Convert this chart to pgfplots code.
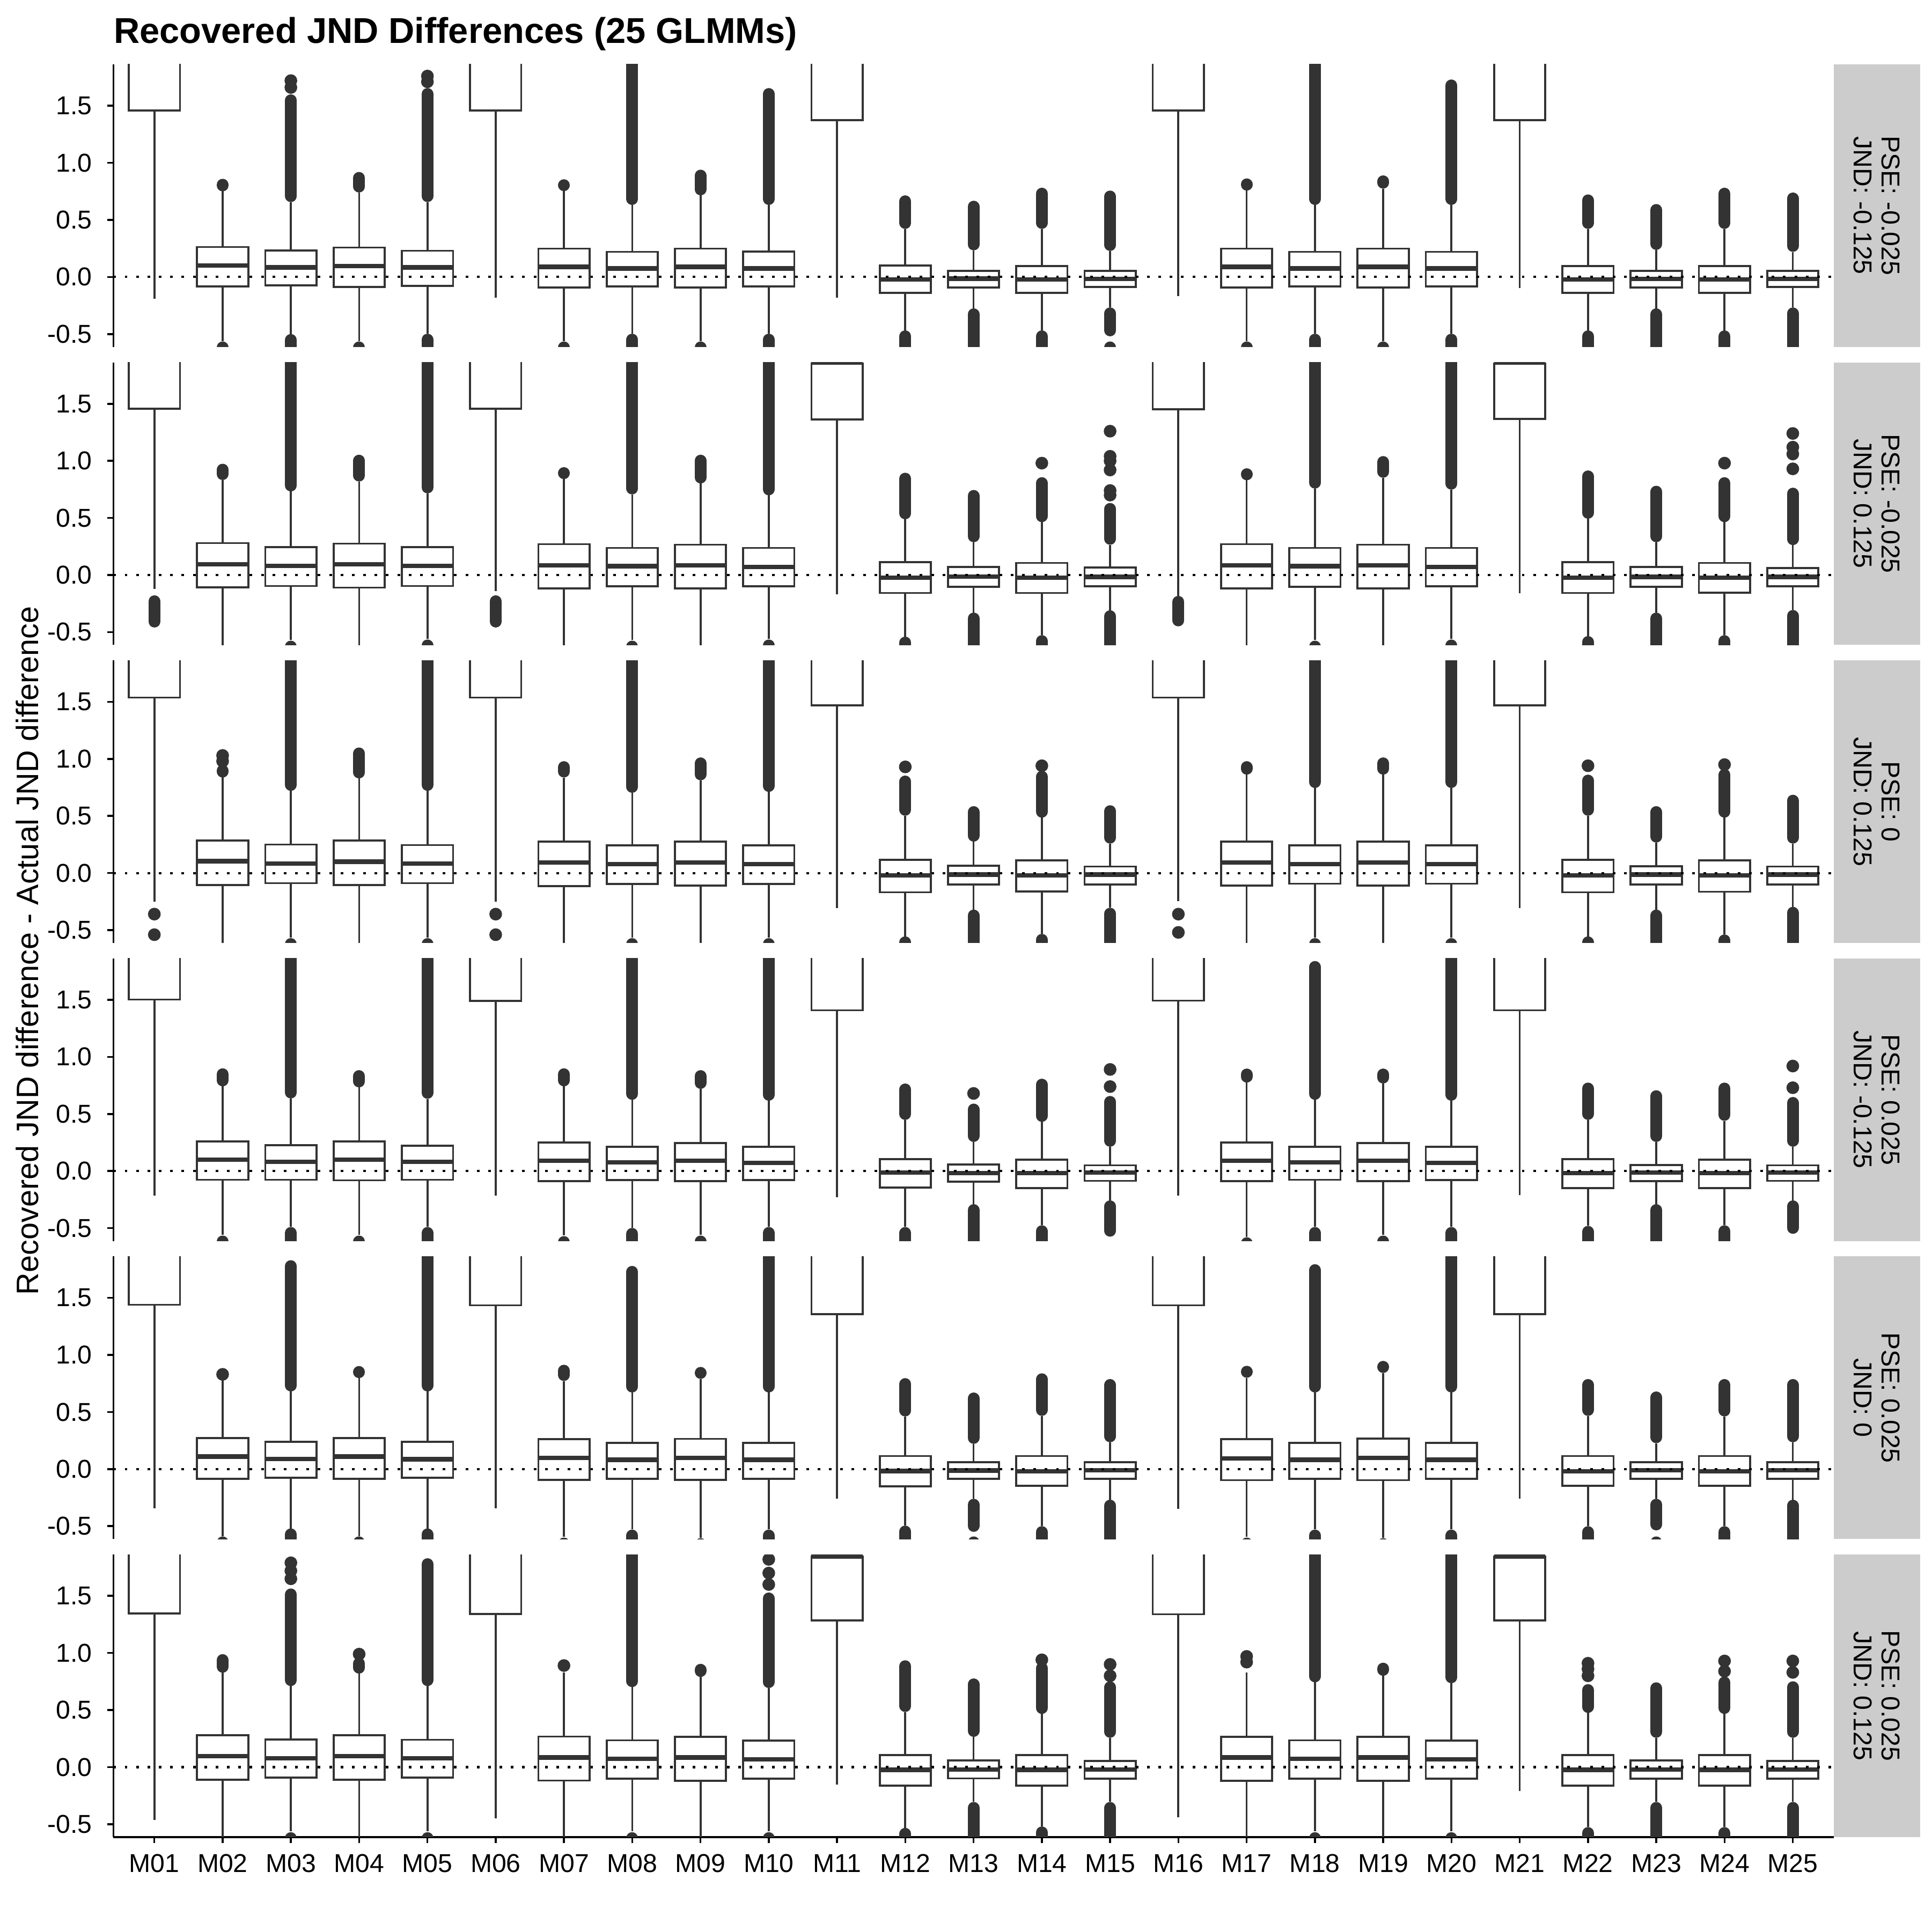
\documentclass[border=0pt]{standalone}
\usepackage{fontspec}
\setmainfont{Liberation Sans}
\usepackage{pgfplots}
\pgfplotsset{compat=1.18}
\usepgfplotslibrary{statistics}
\definecolor{c33}{HTML}{333333}
\definecolor{stripgrey}{HTML}{CCCCCC}
\newcommand{\tickf}{\fontsize{11.6}{13.9}\selectfont}
\newcommand{\Bx}[6]{\addplot[boxplot prepared={draw direction=y, draw position=#1, lower whisker=#2, lower quartile=#3, median=#4, upper quartile=#5, upper whisker=#6, box extend=0.75, whisker extend=0}] coordinates {};}
\newcommand{\Hi}[3]{\Bx{#1}{#2}{#3}{2.2}{2.5}{2.6}}
\newcommand{\Ol}[3]{\addplot[c33, line width=5.3pt, line cap=round, shorten <=2.65pt, shorten >=2.65pt] coordinates {(#1,#2) (#1,#3)};}
\newcommand{\Lo}[2]{\Ol{#1}{-0.75}{#2}}
\newcommand{\Od}[1]{\addplot[only marks, mark=*, mark size=2.65pt, c33, mark options={draw=none, fill=c33}] coordinates {#1};}
\newcommand{\Zero}{\addplot[black, line width=1pt, dash pattern=on 1.2pt off 3.9pt] coordinates {(0.4,0) (25.6,0)};}
\pgfplotsset{
  panel/.style={
    anchor=south west, scale only axis, width=772.45pt, height=126.88pt,
    xmin=0.4, xmax=25.6, ymin=-0.6125, ymax=1.8625,
    axis y line*=left,
    y axis line style={-, black, line width=0.85pt},
    x axis line style={-, black, line width=0.85pt},
    ytick={-0.5,0,0.5,1,1.5}, yticklabels={-0.5,0.0,0.5,1.0,1.5},
    tick align=outside, major tick length=2.75pt,
    every tick/.style={black, line width=0.85pt},
    yticklabel style={font=\tickf, anchor=east, inner sep=0pt, xshift=-6.66pt},
    xticklabel style={font=\tickf, anchor=north, inner sep=0pt, yshift=-4.85pt},
    clip marker paths=true,
    boxplot/draw direction=y,
    boxplot/every box/.style={draw=c33, fill=white, line width=0.9pt},
    boxplot/every whisker/.style={draw=c33, line width=0.9pt},
    boxplot/every median/.style={draw=c33, line width=2.0pt},
  },
  inner/.style={panel, axis x line=none},
}
\begin{document}
\begin{tikzpicture}
% ---------- Row 1: PSE -0.025, JND -0.125
\begin{axis}[inner, at={(50.91pt,711.44pt)}]
\Hi{1}{-0.19}{1.457}
\Ol{2}{0.75}{0.86}\Lo{2}{-0.565}\Bx{2}{-0.56}{-0.082}{0.101}{0.262}{0.762}
\Ol{3}{0.656}{1.60}\Od{(3,1.66)(3,1.72)}\Lo{3}{-0.50}\Bx{3}{-0.50}{-0.074}{0.084}{0.233}{0.656}
\Ol{4}{0.74}{0.92}\Lo{4}{-0.565}\Bx{4}{-0.56}{-0.086}{0.097}{0.258}{0.74}
\Ol{5}{0.656}{1.655}\Od{(5,1.71)(5,1.76)}\Lo{5}{-0.497}\Bx{5}{-0.497}{-0.077}{0.084}{0.23}{0.656}
\Hi{6}{-0.183}{1.457}
\Ol{7}{0.752}{0.856}\Lo{7}{-0.565}\Bx{7}{-0.56}{-0.091}{0.089}{0.248}{0.752}
\Ol{8}{0.631}{1.95}\Lo{8}{-0.497}\Bx{8}{-0.497}{-0.082}{0.074}{0.22}{0.631}
\Ol{9}{0.715}{0.94}\Lo{9}{-0.565}\Bx{9}{-0.56}{-0.094}{0.089}{0.248}{0.715}
\Ol{10}{0.631}{1.655}\Lo{10}{-0.497}\Bx{10}{-0.497}{-0.082}{0.074}{0.223}{0.631}
\Hi{11}{-0.183}{1.373}
\Ol{12}{0.421}{0.715}\Lo{12}{-0.468}\Bx{12}{-0.468}{-0.141}{-0.023}{0.099}{0.421}
\Ol{13}{0.233}{0.668}\Lo{13}{-0.275}\Bx{13}{-0.275}{-0.091}{-0.015}{0.054}{0.233}
\Ol{14}{0.421}{0.782}\Lo{14}{-0.468}\Bx{14}{-0.468}{-0.141}{-0.023}{0.094}{0.421}
\Ol{15}{0.228}{0.757}\Ol{15}{-0.52}{-0.267}\Lo{15}{-0.565}\Bx{15}{-0.267}{-0.087}{-0.018}{0.052}{0.228}
\Hi{16}{-0.166}{1.457}
\Ol{17}{0.76}{0.86}\Lo{17}{-0.565}\Bx{17}{-0.56}{-0.094}{0.089}{0.248}{0.78}
\Ol{18}{0.631}{1.95}\Lo{18}{-0.497}\Bx{18}{-0.497}{-0.082}{0.074}{0.22}{0.631}
\Ol{19}{0.774}{0.89}\Lo{19}{-0.565}\Bx{19}{-0.56}{-0.094}{0.089}{0.248}{0.774}
\Ol{20}{0.631}{1.73}\Lo{20}{-0.497}\Bx{20}{-0.497}{-0.082}{0.074}{0.22}{0.631}
\Hi{21}{-0.099}{1.373}
\Ol{22}{0.421}{0.723}\Lo{22}{-0.468}\Bx{22}{-0.468}{-0.141}{-0.023}{0.097}{0.421}
\Ol{23}{0.237}{0.639}\Lo{23}{-0.275}\Bx{23}{-0.275}{-0.091}{-0.018}{0.052}{0.237}
\Ol{24}{0.421}{0.782}\Lo{24}{-0.468}\Bx{24}{-0.468}{-0.141}{-0.023}{0.097}{0.421}
\Ol{25}{0.22}{0.74}\Lo{25}{-0.267}\Bx{25}{-0.267}{-0.087}{-0.018}{0.052}{0.22}
\Zero
\end{axis}
% ---------- Row 2: PSE -0.025, JND 0.125
\begin{axis}[inner, at={(50.91pt,577.59pt)}]
\Ol{1}{-0.46}{-0.178}\Hi{1}{-0.124}{1.456}
\Ol{2}{0.832}{0.975}\Bx{2}{-0.7}{-0.107}{0.094}{0.279}{0.832}
\Ol{3}{0.732}{1.95}\Lo{3}{-0.575}\Bx{3}{-0.569}{-0.096}{0.081}{0.245}{0.732}
\Ol{4}{0.819}{1.054}\Bx{4}{-0.7}{-0.111}{0.094}{0.275}{0.819}
\Ol{5}{0.715}{1.95}\Lo{5}{-0.565}\Bx{5}{-0.56}{-0.096}{0.081}{0.245}{0.715}
\Ol{6}{-0.46}{-0.178}\Hi{6}{-0.141}{1.456}
\Ol{7}{0.84}{0.945}\Bx{7}{-0.7}{-0.117}{0.086}{0.27}{0.857}
\Ol{8}{0.706}{1.95}\Lo{8}{-0.575}\Bx{8}{-0.569}{-0.099}{0.077}{0.237}{0.706}
\Ol{9}{0.802}{1.054}\Bx{9}{-0.7}{-0.117}{0.086}{0.265}{0.802}
\Ol{10}{0.698}{1.95}\Lo{10}{-0.565}\Bx{10}{-0.56}{-0.099}{0.072}{0.237}{0.698}
\Bx{11}{-0.171}{1.364}{1.862}{1.85}{1.862}
\Ol{12}{0.488}{0.896}\Lo{12}{-0.54}\Bx{12}{-0.54}{-0.158}{-0.023}{0.114}{0.488}
\Ol{13}{0.287}{0.745}\Lo{13}{-0.329}\Bx{13}{-0.329}{-0.104}{-0.015}{0.069}{0.287}
\Ol{14}{0.463}{0.857}\Od{(14,0.98)}\Lo{14}{-0.527}\Bx{14}{-0.527}{-0.158}{-0.023}{0.106}{0.463}
\Ol{15}{0.265}{0.631}\Od{(15,0.70)(15,0.74)(15,0.92)(15,1.00)(15,1.04)(15,1.26)}\Lo{15}{-0.309}\Bx{15}{-0.309}{-0.099}{-0.017}{0.067}{0.265}
\Ol{16}{-0.45}{-0.183}\Hi{16}{-0.183}{1.453}
\Ol{17}{0.83}{0.935}\Bx{17}{-0.7}{-0.117}{0.086}{0.27}{0.852}
\Ol{18}{0.757}{1.95}\Lo{18}{-0.575}\Bx{18}{-0.569}{-0.104}{0.077}{0.237}{0.757}
\Ol{19}{0.852}{1.042}\Bx{19}{-0.7}{-0.117}{0.086}{0.265}{0.852}
\Ol{20}{0.748}{1.95}\Lo{20}{-0.565}\Bx{20}{-0.56}{-0.099}{0.072}{0.237}{0.748}
\Bx{21}{-0.158}{1.369}{1.862}{1.85}{1.862}
\Ol{22}{0.493}{0.916}\Lo{22}{-0.535}\Bx{22}{-0.535}{-0.158}{-0.023}{0.114}{0.493}
\Ol{23}{0.287}{0.782}\Lo{23}{-0.329}\Bx{23}{-0.329}{-0.104}{-0.017}{0.069}{0.287}
\Ol{24}{0.463}{0.857}\Od{(24,0.98)}\Lo{24}{-0.527}\Bx{24}{-0.527}{-0.154}{-0.023}{0.106}{0.463}
\Ol{25}{0.262}{0.765}\Od{(25,0.93)(25,1.06)(25,1.12)(25,1.24)}\Lo{25}{-0.306}\Bx{25}{-0.306}{-0.099}{-0.017}{0.06}{0.262}
\Zero
\end{axis}
% ---------- Row 3: PSE 0, JND 0.125
\begin{axis}[inner, at={(50.91pt,443.74pt)}]
\Od{(1,-0.36)(1,-0.54)}\Hi{1}{-0.253}{1.537}
\Ol{2}{0.846}{0.94}\Od{(2,0.98)(2,1.03)}\Bx{2}{-0.7}{-0.106}{0.104}{0.284}{0.846}
\Ol{3}{0.72}{1.95}\Lo{3}{-0.57}\Bx{3}{-0.564}{-0.089}{0.084}{0.25}{0.72}
\Ol{4}{0.829}{1.10}\Bx{4}{-0.7}{-0.106}{0.099}{0.284}{0.829}
\Ol{5}{0.72}{1.95}\Lo{5}{-0.57}\Bx{5}{-0.564}{-0.089}{0.084}{0.245}{0.72}
\Od{(6,-0.36)(6,-0.54)}\Hi{6}{-0.253}{1.537}
\Ol{7}{0.837}{0.98}\Bx{7}{-0.7}{-0.114}{0.092}{0.275}{0.837}
\Ol{8}{0.703}{1.95}\Lo{8}{-0.57}\Bx{8}{-0.564}{-0.097}{0.079}{0.242}{0.703}
\Ol{9}{0.812}{1.013}\Bx{9}{-0.7}{-0.11}{0.092}{0.275}{0.812}
\Ol{10}{0.711}{1.95}\Lo{10}{-0.57}\Bx{10}{-0.564}{-0.097}{0.079}{0.242}{0.711}
\Hi{11}{-0.309}{1.47}
\Ol{12}{0.502}{0.854}\Od{(12,0.93)}\Lo{12}{-0.555}\Bx{12}{-0.555}{-0.169}{-0.02}{0.116}{0.502}
\Ol{13}{0.275}{0.586}\Lo{13}{-0.32}\Bx{13}{-0.32}{-0.102}{-0.013}{0.065}{0.275}
\Ol{14}{0.485}{0.896}\Od{(14,0.94)}\Lo{14}{-0.533}\Bx{14}{-0.533}{-0.161}{-0.02}{0.112}{0.485}
\Ol{15}{0.258}{0.594}\Lo{15}{-0.304}\Bx{15}{-0.304}{-0.102}{-0.013}{0.057}{0.258}
\Od{(16,-0.36)(16,-0.52)}\Hi{16}{-0.245}{1.537}
\Ol{17}{0.862}{0.98}\Bx{17}{-0.7}{-0.11}{0.092}{0.275}{0.862}
\Ol{18}{0.745}{1.95}\Lo{18}{-0.57}\Bx{18}{-0.564}{-0.094}{0.079}{0.242}{0.745}
\Ol{19}{0.862}{1.013}\Bx{19}{-0.7}{-0.11}{0.092}{0.275}{0.862}
\Ol{20}{0.745}{1.95}\Lo{20}{-0.57}\Bx{20}{-0.564}{-0.094}{0.079}{0.242}{0.745}
\Hi{21}{-0.309}{1.47}
\Ol{22}{0.502}{0.862}\Od{(22,0.94)}\Lo{22}{-0.555}\Bx{22}{-0.555}{-0.169}{-0.02}{0.116}{0.502}
\Ol{23}{0.267}{0.586}\Lo{23}{-0.32}\Bx{23}{-0.32}{-0.102}{-0.013}{0.06}{0.267}
\Ol{24}{0.485}{0.913}\Od{(24,0.95)}\Lo{24}{-0.538}\Bx{24}{-0.538}{-0.164}{-0.02}{0.112}{0.485}
\Ol{25}{0.258}{0.686}\Lo{25}{-0.296}\Bx{25}{-0.296}{-0.102}{-0.013}{0.057}{0.258}
\Zero
\end{axis}
% ---------- Row 4: PSE 0.025, JND -0.125
\begin{axis}[inner, at={(50.91pt,309.90pt)}]
\Hi{1}{-0.215}{1.502}
\Ol{2}{0.742}{0.90}\Lo{2}{-0.565}\Bx{2}{-0.559}{-0.077}{0.099}{0.26}{0.742}
\Ol{3}{0.636}{1.95}\Lo{3}{-0.49}\Bx{3}{-0.49}{-0.076}{0.081}{0.227}{0.636}
\Ol{4}{0.733}{0.884}\Lo{4}{-0.565}\Bx{4}{-0.559}{-0.081}{0.099}{0.258}{0.733}
\Ol{5}{0.633}{1.95}\Lo{5}{-0.49}\Bx{5}{-0.49}{-0.076}{0.081}{0.221}{0.633}
\Hi{6}{-0.215}{1.49}
\Ol{7}{0.742}{0.90}\Lo{7}{-0.57}\Bx{7}{-0.565}{-0.089}{0.089}{0.25}{0.742}
\Ol{8}{0.624}{1.95}\Lo{8}{-0.498}\Bx{8}{-0.498}{-0.079}{0.076}{0.213}{0.624}
\Ol{9}{0.72}{0.884}\Lo{9}{-0.565}\Bx{9}{-0.559}{-0.089}{0.089}{0.247}{0.72}
\Ol{10}{0.616}{1.95}\Lo{10}{-0.49}\Bx{10}{-0.49}{-0.079}{0.07}{0.213}{0.616}
\Hi{11}{-0.227}{1.408}
\Ol{12}{0.448}{0.767}\Lo{12}{-0.49}\Bx{12}{-0.49}{-0.146}{-0.013}{0.104}{0.448}
\Ol{13}{0.255}{0.591}\Od{(13,0.68)}\Lo{13}{-0.29}\Bx{13}{-0.29}{-0.094}{-0.018}{0.057}{0.255}
\Ol{14}{0.431}{0.809}\Lo{14}{-0.475}\Bx{14}{-0.475}{-0.148}{-0.018}{0.1}{0.431}
\Ol{15}{0.213}{0.658}\Od{(15,0.74)(15,0.89)}\Ol{15}{-0.575}{-0.257}\Bx{15}{-0.257}{-0.086}{-0.013}{0.05}{0.213}
\Hi{16}{-0.215}{1.493}
\Ol{17}{0.775}{0.898}\Lo{17}{-0.58}\Bx{17}{-0.575}{-0.089}{0.089}{0.25}{0.775}
\Ol{18}{0.624}{1.84}\Lo{18}{-0.49}\Bx{18}{-0.49}{-0.076}{0.076}{0.213}{0.624}
\Ol{19}{0.767}{0.898}\Lo{19}{-0.565}\Bx{19}{-0.559}{-0.089}{0.089}{0.247}{0.767}
\Ol{20}{0.616}{1.95}\Lo{20}{-0.49}\Bx{20}{-0.49}{-0.079}{0.07}{0.213}{0.616}
\Hi{21}{-0.21}{1.408}
\Ol{22}{0.448}{0.775}\Lo{22}{-0.48}\Bx{22}{-0.48}{-0.148}{-0.018}{0.104}{0.448}
\Ol{23}{0.255}{0.708}\Lo{23}{-0.29}\Bx{23}{-0.29}{-0.089}{-0.013}{0.054}{0.255}
\Ol{24}{0.44}{0.775}\Lo{24}{-0.475}\Bx{24}{-0.475}{-0.148}{-0.018}{0.1}{0.44}
\Ol{25}{0.213}{0.649}\Od{(25,0.73)(25,0.92)}\Ol{25}{-0.55}{-0.257}\Bx{25}{-0.257}{-0.086}{-0.013}{0.05}{0.213}
\Zero
\end{axis}
% ---------- Row 5: PSE 0.025, JND 0
\begin{axis}[inner, at={(50.91pt,176.05pt)}]
\Hi{1}{-0.344}{1.44}
\Od{(2,0.83)}\Lo{2}{-0.59}\Bx{2}{-0.587}{-0.084}{0.109}{0.272}{0.814}
\Ol{3}{0.68}{1.83}\Lo{3}{-0.52}\Bx{3}{-0.52}{-0.076}{0.089}{0.24}{0.68}
\Ol{4}{0.797}{0.903}\Lo{4}{-0.59}\Bx{4}{-0.587}{-0.084}{0.109}{0.272}{0.797}
\Ol{5}{0.68}{1.95}\Lo{5}{-0.52}\Bx{5}{-0.52}{-0.076}{0.086}{0.24}{0.68}
\Hi{6}{-0.344}{1.435}
\Ol{7}{0.772}{0.914}\Lo{7}{-0.6}\Bx{7}{-0.595}{-0.094}{0.097}{0.263}{0.772}
\Ol{8}{0.671}{1.78}\Lo{8}{-0.53}\Bx{8}{-0.529}{-0.084}{0.081}{0.23}{0.671}
\Ol{9}{0.79}{0.895}\Lo{9}{-0.605}\Bx{9}{-0.6}{-0.094}{0.097}{0.265}{0.79}
\Ol{10}{0.671}{1.95}\Lo{10}{-0.53}\Bx{10}{-0.529}{-0.084}{0.081}{0.23}{0.671}
\Hi{11}{-0.26}{1.356}
\Ol{12}{0.461}{0.797}\Lo{12}{-0.495}\Bx{12}{-0.495}{-0.151}{-0.017}{0.114}{0.461}
\Ol{13}{0.221}{0.671}\Ol{13}{-0.55}{-0.26}\Lo{13}{-0.59}\Bx{13}{-0.26}{-0.084}{-0.013}{0.059}{0.221}
\Ol{14}{0.466}{0.839}\Lo{14}{-0.5}\Bx{14}{-0.5}{-0.148}{-0.02}{0.114}{0.466}
\Ol{15}{0.235}{0.789}\Lo{15}{-0.268}\Bx{15}{-0.268}{-0.087}{-0.01}{0.059}{0.235}
\Hi{16}{-0.349}{1.435}
\Ol{17}{0.80}{0.905}\Lo{17}{-0.6}\Bx{17}{-0.595}{-0.097}{0.094}{0.263}{0.80}
\Ol{18}{0.671}{1.795}\Lo{18}{-0.53}\Bx{18}{-0.529}{-0.084}{0.081}{0.23}{0.671}
\Ol{19}{0.842}{0.948}\Lo{19}{-0.605}\Bx{19}{-0.6}{-0.097}{0.097}{0.268}{0.842}
\Ol{20}{0.671}{1.95}\Lo{20}{-0.53}\Bx{20}{-0.529}{-0.084}{0.081}{0.23}{0.671}
\Hi{21}{-0.26}{1.356}
\Ol{22}{0.466}{0.789}\Lo{22}{-0.5}\Bx{22}{-0.5}{-0.148}{-0.02}{0.114}{0.466}
\Ol{23}{0.227}{0.68}\Ol{23}{-0.537}{-0.26}\Lo{23}{-0.59}\Bx{23}{-0.26}{-0.084}{-0.01}{0.059}{0.227}
\Ol{24}{0.461}{0.789}\Lo{24}{-0.5}\Bx{24}{-0.5}{-0.148}{-0.02}{0.114}{0.461}
\Ol{25}{0.235}{0.789}\Lo{25}{-0.268}\Bx{25}{-0.268}{-0.087}{-0.01}{0.059}{0.235}
\Zero
\end{axis}
% ---------- Row 6: PSE 0.025, JND 0.125
\begin{axis}[panel, at={(50.91pt,42.20pt)}, axis x line*=bottom,
  xtick={1,...,25},
  xticklabels={M01,M02,M03,M04,M05,M06,M07,M08,M09,M10,M11,M12,M13,M14,M15,M16,M17,M18,M19,M20,M21,M22,M23,M24,M25}]
\Hi{1}{-0.465}{1.347}
\Ol{2}{0.827}{0.99}\Bx{2}{-0.7}{-0.109}{0.097}{0.279}{0.827}
\Ol{3}{0.71}{1.565}\Od{(3,1.65)(3,1.72)(3,1.79)}\Lo{3}{-0.57}\Bx{3}{-0.56}{-0.091}{0.077}{0.243}{0.71}
\Ol{4}{0.819}{0.96}\Od{(4,0.99)}\Bx{4}{-0.7}{-0.109}{0.097}{0.279}{0.819}
\Ol{5}{0.71}{1.83}\Lo{5}{-0.57}\Bx{5}{-0.56}{-0.091}{0.077}{0.24}{0.71}
\Hi{6}{-0.448}{1.342}
\Od{(7,0.89)}\Bx{7}{-0.7}{-0.117}{0.084}{0.268}{0.827}
\Ol{8}{0.701}{1.95}\Lo{8}{-0.57}\Bx{8}{-0.56}{-0.101}{0.074}{0.235}{0.701}
\Ol{9}{0.79}{0.905}\Bx{9}{-0.7}{-0.121}{0.084}{0.265}{0.81}
\Ol{10}{0.693}{1.53}\Od{(10,1.60)(10,1.70)(10,1.82)}\Lo{10}{-0.57}\Bx{10}{-0.56}{-0.101}{0.069}{0.232}{0.693}
\Bx{11}{-0.154}{1.285}{1.845}{1.845}{1.845}
\Ol{12}{0.483}{0.936}\Lo{12}{-0.532}\Bx{12}{-0.532}{-0.163}{-0.023}{0.106}{0.483}
\Ol{13}{0.265}{0.777}\Lo{13}{-0.305}\Bx{13}{-0.305}{-0.099}{-0.02}{0.059}{0.265}
\Ol{14}{0.466}{0.919}\Od{(14,0.94)}\Lo{14}{-0.52}\Bx{14}{-0.52}{-0.163}{-0.023}{0.106}{0.466}
\Ol{15}{0.257}{0.752}\Od{(15,0.80)(15,0.90)}\Lo{15}{-0.305}\Bx{15}{-0.305}{-0.101}{-0.02}{0.055}{0.257}
\Hi{16}{-0.44}{1.339}
\Od{(17,0.92)(17,0.97)}\Bx{17}{-0.7}{-0.121}{0.084}{0.265}{0.827}
\Ol{18}{0.743}{1.95}\Lo{18}{-0.57}\Bx{18}{-0.56}{-0.101}{0.074}{0.235}{0.743}
\Ol{19}{0.80}{0.915}\Bx{19}{-0.7}{-0.121}{0.084}{0.265}{0.81}
\Ol{20}{0.735}{1.95}\Lo{20}{-0.57}\Bx{20}{-0.56}{-0.101}{0.069}{0.232}{0.735}
\Bx{21}{-0.208}{1.285}{1.845}{1.845}{1.845}
\Ol{22}{0.475}{0.727}\Od{(22,0.80)(22,0.86)(22,0.91)}\Lo{22}{-0.525}\Bx{22}{-0.525}{-0.163}{-0.023}{0.106}{0.475}
\Ol{23}{0.257}{0.743}\Lo{23}{-0.305}\Bx{23}{-0.305}{-0.101}{-0.02}{0.059}{0.257}
\Ol{24}{0.466}{0.794}\Od{(24,0.84)(24,0.93)}\Lo{24}{-0.525}\Bx{24}{-0.525}{-0.163}{-0.023}{0.106}{0.466}
\Ol{25}{0.257}{0.752}\Od{(25,0.83)(25,0.93)}\Lo{25}{-0.305}\Bx{25}{-0.305}{-0.101}{-0.02}{0.055}{0.257}
\Zero
\end{axis}
% ---------- strips
\foreach \yb/\lab in {711.44/{PSE: -0.025\\JND: -0.125}, 577.59/{PSE: -0.025\\JND: 0.125}, 443.74/{PSE: 0\\JND: 0.125}, 309.90/{PSE: 0.025\\JND: -0.125}, 176.05/{PSE: 0.025\\JND: 0}, 42.20/{PSE: 0.025\\JND: 0.125}}{
  \fill[stripgrey] (823.36pt,\yb pt) rectangle (862.06pt,\yb pt+126.88pt);
  \node[rotate=-90, align=center, font=\fontsize{11.6}{12.7}\selectfont, inner sep=0pt] at (842.7pt,\yb pt+63.44pt) {\lab};
}
% ---------- titles
\node[anchor=base west, inner sep=0pt, font=\fontsize{16.1}{19}\selectfont\bfseries] at (50.91pt,847.9pt) {Recovered JND Differences (25 GLMMs)};
\node[rotate=90, inner sep=0pt, font=\fontsize{13.9}{16}\selectfont] at (12.17pt,440.3pt) {Recovered JND difference - Actual JND difference};
\pgfresetboundingbox
\path[use as bounding box] (0pt,0pt) rectangle (867.24pt,867.24pt);
\end{tikzpicture}
\end{document}
